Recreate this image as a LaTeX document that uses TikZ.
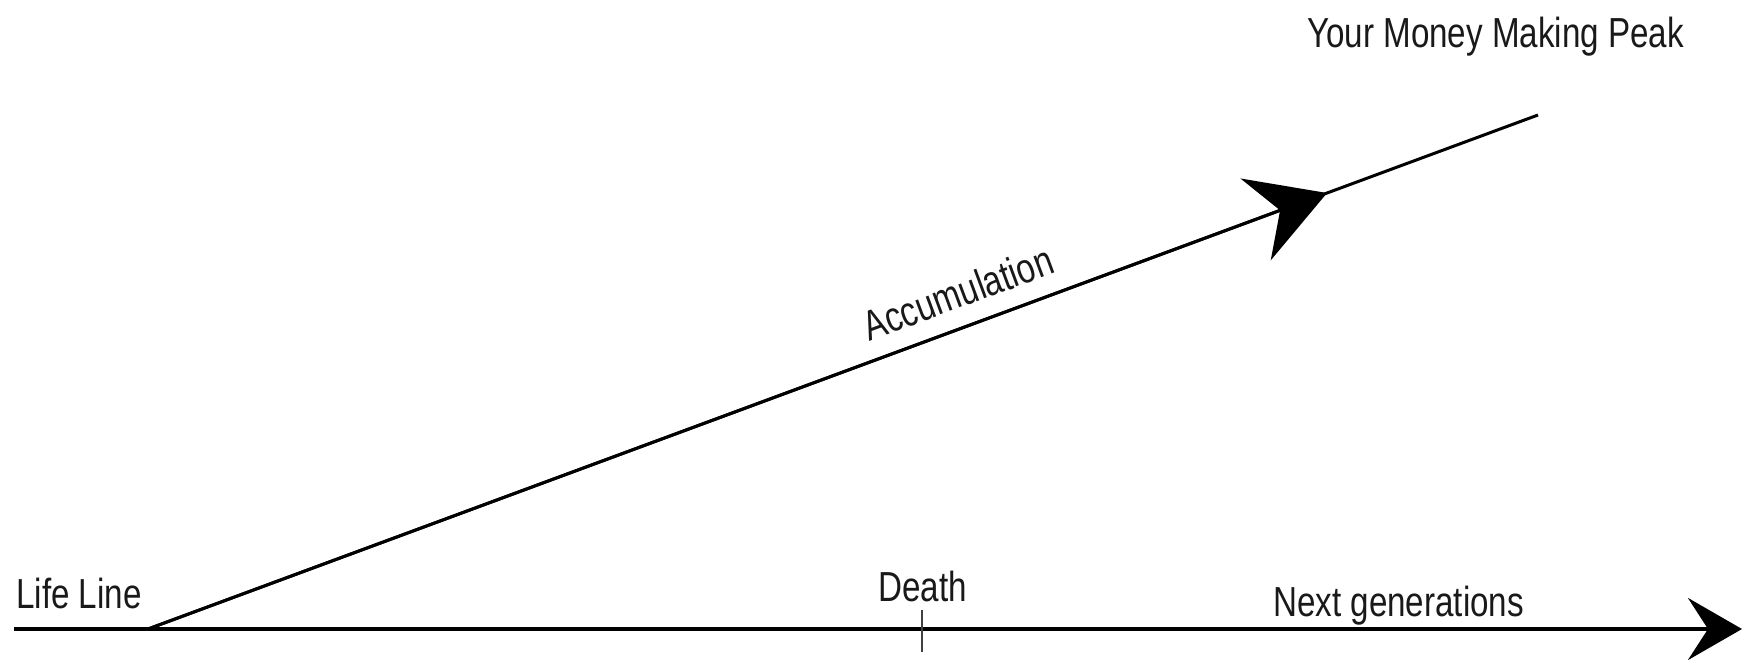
\documentclass[tikz,border=0pt]{standalone}
\usepackage{fontspec}
\setmainfont{Liberation Sans}
\newfontfamily\narrowfont[FakeStretch=0.79]{Liberation Sans}
\usetikzlibrary{arrows.meta}
\begin{document}
\begin{tikzpicture}[x=1pt,y=-1pt,
  lbl/.style={inner sep=0pt, anchor=base west, text=black!90, font=\narrowfont\fontsize{42}{50}\selectfont},
  axisline/.style={line width=4pt, -{Stealth[length=54pt,width=62pt,inset=20pt]}},
  diagline/.style={line width=3pt},
  diagarrow/.style={line width=3pt, -{Stealth[length=76pt,width=87pt,inset=26pt]}},
  tick/.style={line width=2.5pt, black!75}]
\useasboundingbox (0,0) rectangle (1743,663);
% coordinates
\coordinate (L0) at (14,629);
\coordinate (L1) at (1742,629);
\coordinate (D0) at (148,629);
\coordinate (D1) at (1538,115);
\coordinate (Dm) at (1327,193);
\coordinate (T0) at (922,610);
\coordinate (T1) at (922,652);
% labels
\node[lbl] (peak) at (1307,48) {Your Money Making Peak};
\node[lbl] (life) at (16,608) {Life Line};
\node[lbl] (death) at (878,601) {Death};
\node[lbl] (next) at (1273,616) {Next generations};
\node[lbl, anchor=base, rotate=20.3] (acc) at (963,307) {Accumulation};
% lines
\draw[axisline] (L0) -- (L1);
\draw[diagline] (D0) -- (D1);
\draw[diagarrow] (D0) -- (Dm);
\draw[tick] (T0) -- (T1);
\end{tikzpicture}
\end{document}
